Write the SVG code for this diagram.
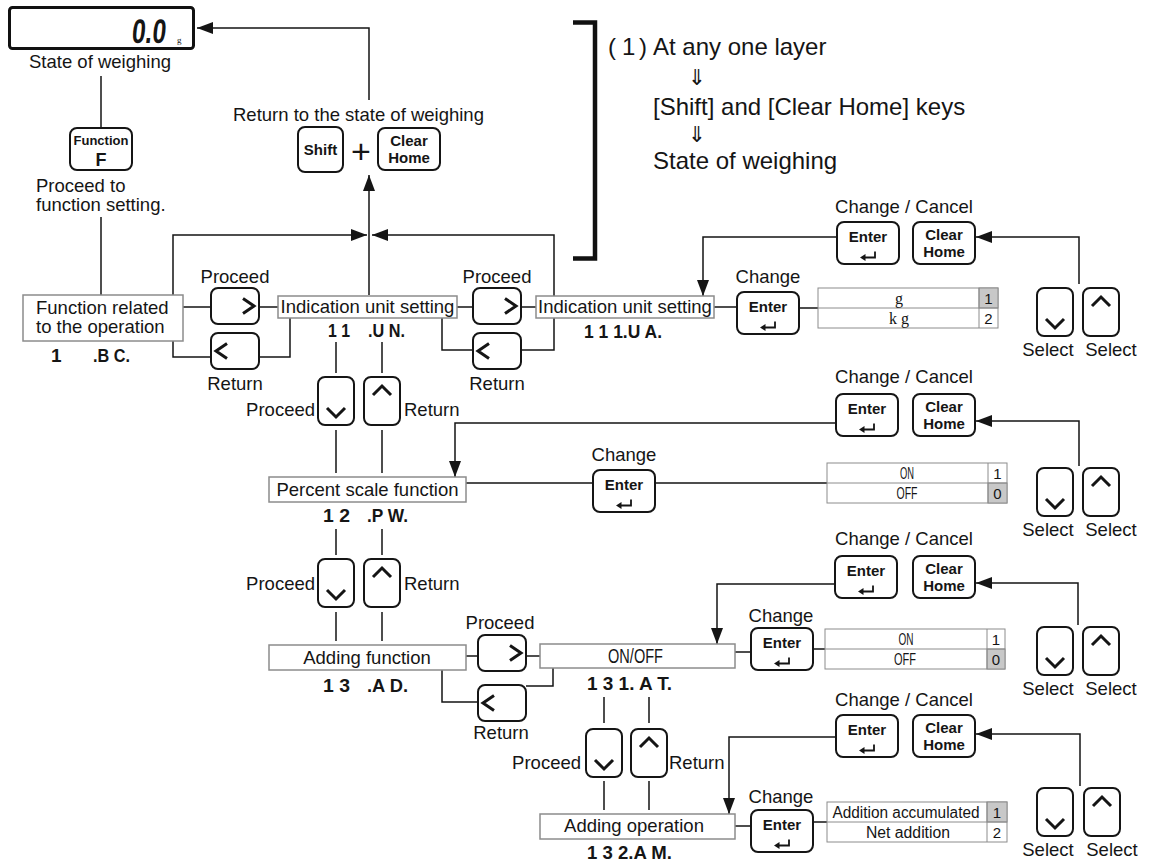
<svg xmlns="http://www.w3.org/2000/svg" width="1151" height="865" viewBox="0 0 1151 865">
<style>
.ln{fill:none;stroke:#151515;stroke-width:1.5}
.key{fill:#fff;stroke:#151515;stroke-width:2}
.chev{fill:none;stroke:#151515;stroke-width:3}
.box{fill:#fff;stroke:#8c8c8c;stroke-width:1.5}
.tb{fill:#fff;stroke:#8c8c8c;stroke-width:1}
.sel{fill:#c8c8c8;stroke:#8c8c8c;stroke-width:1}
text{font-family:"Liberation Sans",Arial,sans-serif;fill:#151515}
.lbl{font-size:18.5px}
.mid{text-anchor:middle}
.end{text-anchor:end}
.note{font-size:24px}
.arr{font-family:"DejaVu Sans",sans-serif;font-size:22px;text-anchor:middle}
.kt{font-size:15px;font-weight:bold;text-anchor:middle}
.code{font-size:19px;font-weight:bold}
.tt{font-size:16px;text-anchor:middle}
.num{font-size:15px;text-anchor:middle}
.ser{font-family:"Liberation Serif",serif}
</style>
<defs>
<marker id="ah" markerUnits="userSpaceOnUse" markerWidth="16" markerHeight="12" refX="16" refY="6" orient="auto"><path d="M0,0 L16,6 L0,12 z" fill="#151515"/></marker>
<g id="kEnter"><rect class="key" x="0" y="0" width="62" height="42" rx="7"/><text class="kt" x="31" y="19.5">Enter</text><path d="M38,29.5 V35.5 H27" fill="none" stroke="#151515" stroke-width="1.8"/><path d="M23,35.5 L28.5,32 L28.5,39 z" fill="#151515"/></g>
<g id="kClear"><rect class="key" x="0" y="0" width="62" height="42" rx="7"/><text class="kt" x="31" y="17.5">Clear</text><text class="kt" x="31" y="34.5">Home</text></g>
<g id="kDown"><rect class="key" x="0" y="0" width="36" height="48" rx="7"/><polyline class="chev" points="9,31 18,40 27,31"/></g>
<g id="kUp"><rect class="key" x="0" y="0" width="36" height="48" rx="7"/><polyline class="chev" points="9,18 18,9 27,18"/></g>
<g id="kRight"><rect class="key" x="0" y="0" width="48" height="36" rx="7"/><polyline class="chev" points="32,10.5 43,18 32,25.5"/></g>
<g id="kLeft"><rect class="key" x="0" y="0" width="48" height="36" rx="7"/><polyline class="chev" points="16,10.5 5,18 16,25.5"/></g>
</defs>
<rect width="1151" height="865" fill="#fff"/>

<g id="connectors">
<path class="ln" d="M101,76 V128"/>
<path class="ln" d="M101,217 V295"/>
<path class="ln" d="M369,100 V28 H197" marker-end="url(#ah)"/>
<path class="ln" d="M369,295 V175" marker-end="url(#ah)"/>
<path class="ln" d="M173,295 V235 H367" marker-end="url(#ah)"/>
<path class="ln" d="M522,350 H554 V235 H372" marker-end="url(#ah)"/>
<path class="ln" d="M183,307 H211 M259,307 H278"/>
<path class="ln" d="M173,341 V357 H211 M259,357 H290 V318"/>
<path class="ln" d="M457,307 H473 M521,307 H536"/>
<path class="ln" d="M473,350 H442 V318"/>
<path class="ln" d="M714,307 H737 M799,308 H818"/>
<path class="ln" d="M837,237 H703 V296" marker-end="url(#ah)"/>
<path class="ln" d="M1079,284 V237 H976" marker-end="url(#ah)"/>
<path class="ln" d="M336,342 V373 M382,342 V373"/>
<path class="ln" d="M336,430 V473 M382,430 V473"/>
<path class="ln" d="M336,529 V555 M382,529 V555"/>
<path class="ln" d="M836,423 H455 V477" marker-end="url(#ah)"/>
<path class="ln" d="M466,483 H593 M655,483 H827"/>
<path class="ln" d="M1079,466 V421 H976" marker-end="url(#ah)"/>
<path class="ln" d="M336,612 V641 M382,612 V641"/>
<path class="ln" d="M466,656 H478 M526,656 H540"/>
<path class="ln" d="M442,670 V702 H478 M526,686 H553 V668"/>
<path class="ln" d="M604,697 V723 M649,697 V723"/>
<path class="ln" d="M836,584 H717 V644" marker-end="url(#ah)"/>
<path class="ln" d="M735,652 H750 M813,649 H825"/>
<path class="ln" d="M1078,625 V583 H976" marker-end="url(#ah)"/>
<path class="ln" d="M604,781 V810 M649,781 V810"/>
<path class="ln" d="M836,737 H729 V814" marker-end="url(#ah)"/>
<path class="ln" d="M735,826 H750 M813,822 H827"/>
<path class="ln" d="M1080,786 V734 H976" marker-end="url(#ah)"/>
</g>

<g id="bracket"><path d="M573,22.5 H595 V258.5 H573" fill="none" stroke="#111" stroke-width="4.5"/></g>

<g id="display">
<rect x="9.5" y="7.5" width="184" height="41" rx="3" fill="#fff" stroke="#111" stroke-width="3"/>
<text x="0" y="0" transform="translate(131,43) skewX(-6) scale(0.72,1)" font-size="34" font-weight="bold">0.0</text>
<text class="ser" x="177" y="43" font-size="9">g</text>
<text class="lbl mid" x="100" y="68">State of weighing</text>
</g>

<g id="function-key">
<rect class="key" x="70" y="128" width="62" height="42" rx="7"/>
<text class="kt" x="101" y="145" style="font-size:13px">Function</text>
<text class="kt" x="101" y="166" style="font-size:18px">F</text>
<text class="lbl" x="36" y="192">Proceed to</text>
<text class="lbl" x="36" y="211">function setting.</text>
</g>

<g id="return-home">
<text class="lbl" x="233" y="121">Return to the state of weighing</text>
<rect class="key" x="298" y="127" width="45" height="45" rx="7"/>
<text class="kt" x="320.5" y="155">Shift</text>
<text x="361" y="163" font-size="34" text-anchor="middle">+</text>
<use href="#kClear" x="378" y="128"/>
</g>

<g id="note">
<text class="note" x="608 622 639" y="55">(1)</text>
<text class="note" x="653" y="55">At any one layer</text>
<text class="arr" x="697" y="85">⇓</text>
<text class="note" x="653" y="115">[Shift] and [Clear Home] keys</text>
<text class="arr" x="697" y="142">⇓</text>
<text class="note" x="653" y="169">State of weighing</text>
</g>

<g id="n-1-bc">
<rect class="box" x="23" y="295" width="160" height="46"/>
<text class="lbl" x="36" y="314">Function related</text>
<text class="lbl" x="36" y="333">to the operation</text>
<text class="code" x="51" y="362">1</text>
<text class="code" x="93" y="362" textLength="37" lengthAdjust="spacingAndGlyphs">.B C.</text>
</g>

<g id="k-row1-proceed"><text class="lbl mid" x="235" y="283">Proceed</text><use href="#kRight" x="211" y="288"/></g>
<g id="k-row1-return"><use href="#kLeft" x="211" y="333"/><text class="lbl mid" x="235" y="390">Return</text></g>

<g id="n-11-un">
<rect class="box" x="278" y="296" width="179" height="22"/>
<text class="lbl mid" x="367.5" y="313">Indication unit setting</text>
<text class="code" x="328" y="337" textLength="22" lengthAdjust="spacingAndGlyphs">1 1</text>
<text class="code" x="368" y="337" textLength="37" lengthAdjust="spacingAndGlyphs">.U N.</text>
</g>

<g id="k-row1b-proceed"><text class="lbl mid" x="497" y="283">Proceed</text><use href="#kRight" x="473" y="288"/></g>
<g id="k-row1b-return"><use href="#kLeft" x="473" y="333"/><text class="lbl mid" x="497" y="390">Return</text></g>

<g id="n-111-ua">
<rect class="box" x="536" y="296" width="178" height="22"/>
<text class="lbl mid" x="625" y="313">Indication unit setting</text>
<text class="code" x="584" y="338" textLength="78" lengthAdjust="spacingAndGlyphs">1 1 1.U A.</text>
</g>

<g id="k-row1-change"><text class="lbl mid" x="768" y="283">Change</text><use href="#kEnter" x="737" y="292"/></g>
<g id="t-unit">
<rect class="tb" x="818" y="288" width="180" height="40"/>
<rect class="sel" x="979" y="288" width="19" height="20"/>
<path d="M818,308 H998 M979,288 V328" stroke="#8c8c8c" stroke-width="1"/>
<text class="tt ser" x="899" y="304">g</text>
<text class="tt ser" x="899" y="324">k g</text>
<text class="num" x="988.5" y="304">1</text>
<text class="num" x="988.5" y="324">2</text>
</g>
<g id="k-row1-cancel">
<text class="lbl mid" x="904" y="213">Change / Cancel</text>
<use href="#kEnter" x="837" y="222"/>
<use href="#kClear" x="913" y="222"/>
</g>
<g id="k-row1-select">
<use href="#kDown" x="1037" y="288"/><use href="#kUp" x="1083" y="288"/>
<text class="lbl mid" x="1048" y="356">Select</text><text class="lbl mid" x="1111" y="356">Select</text>
</g>

<g id="k-row2-updown">
<text class="lbl end" x="315" y="416">Proceed</text>
<use href="#kDown" x="318" y="377"/><use href="#kUp" x="364" y="377"/>
<text class="lbl" x="404" y="416">Return</text>
</g>

<g id="n-12-pw">
<rect class="box" x="269" y="477" width="197" height="25"/>
<text class="lbl mid" x="367.5" y="496">Percent scale function</text>
<text class="code" x="323" y="522" textLength="27" lengthAdjust="spacingAndGlyphs">1 2</text>
<text class="code" x="367" y="522" textLength="41" lengthAdjust="spacingAndGlyphs">.P W.</text>
</g>
<g id="k-row2-change"><text class="lbl mid" x="624" y="461">Change</text><use href="#kEnter" x="593" y="470"/></g>
<g id="t-percent">
<rect class="tb" x="827" y="463" width="180" height="40"/>
<rect class="sel" x="988" y="483" width="19" height="20"/>
<path d="M827,483 H1007 M988,463 V503" stroke="#8c8c8c" stroke-width="1"/>
<text class="tt" x="907" y="479" textLength="14" lengthAdjust="spacingAndGlyphs">ON</text>
<text class="tt" x="907" y="499" textLength="21" lengthAdjust="spacingAndGlyphs">OFF</text>
<text class="num" x="997.5" y="479">1</text>
<text class="num" x="997.5" y="499">0</text>
</g>
<g id="k-row2-cancel">
<text class="lbl mid" x="904" y="383">Change / Cancel</text>
<use href="#kEnter" x="836" y="394"/>
<use href="#kClear" x="913" y="394"/>
</g>
<g id="k-row2-select">
<use href="#kDown" x="1037" y="468"/><use href="#kUp" x="1083" y="468"/>
<text class="lbl mid" x="1048" y="536">Select</text><text class="lbl mid" x="1111" y="536">Select</text>
</g>

<g id="k-row3-updown">
<text class="lbl end" x="315" y="590">Proceed</text>
<use href="#kDown" x="318" y="559"/><use href="#kUp" x="364" y="559"/>
<text class="lbl" x="404" y="590">Return</text>
</g>

<g id="n-13-ad">
<rect class="box" x="269" y="645" width="197" height="25"/>
<text class="lbl mid" x="367" y="664">Adding function</text>
<text class="code" x="323" y="692" textLength="27" lengthAdjust="spacingAndGlyphs">1 3</text>
<text class="code" x="367" y="692" textLength="41" lengthAdjust="spacingAndGlyphs">.A D.</text>
</g>
<g id="k-row3-proceed"><text class="lbl mid" x="500" y="629">Proceed</text><use href="#kRight" x="478" y="635"/></g>
<g id="k-row3-return"><use href="#kLeft" x="478" y="685"/><text class="lbl mid" x="501" y="739">Return</text></g>

<g id="n-131-at">
<rect class="box" x="540" y="644" width="195" height="24"/>
<text x="608" y="663" font-size="20" textLength="55" lengthAdjust="spacingAndGlyphs">ON/OFF</text>
<text class="code" x="587" y="690" textLength="85" lengthAdjust="spacingAndGlyphs">1 3 1. A T.</text>
</g>
<g id="k-row3-change"><text class="lbl mid" x="781" y="622">Change</text><use href="#kEnter" x="751" y="628"/></g>
<g id="t-adding">
<rect class="tb" x="825" y="629" width="180" height="40"/>
<rect class="sel" x="987" y="649" width="18" height="20"/>
<path d="M825,649 H1005 M987,629 V669" stroke="#8c8c8c" stroke-width="1"/>
<text class="tt" x="906" y="645" textLength="15" lengthAdjust="spacingAndGlyphs">ON</text>
<text class="tt" x="905" y="665" textLength="22" lengthAdjust="spacingAndGlyphs">OFF</text>
<text class="num" x="996" y="645">1</text>
<text class="num" x="996" y="665">0</text>
</g>
<g id="k-row3-cancel">
<text class="lbl mid" x="904" y="545">Change / Cancel</text>
<use href="#kEnter" x="835" y="556"/>
<use href="#kClear" x="913" y="556"/>
</g>
<g id="k-row3-select">
<use href="#kDown" x="1037" y="627"/><use href="#kUp" x="1083" y="627"/>
<text class="lbl mid" x="1048" y="695">Select</text><text class="lbl mid" x="1111" y="695">Select</text>
</g>

<g id="k-row4-updown">
<text class="lbl end" x="581" y="769">Proceed</text>
<use href="#kDown" x="586" y="729"/><use href="#kUp" x="631" y="729"/>
<text class="lbl" x="669" y="769">Return</text>
</g>

<g id="n-132-am">
<rect class="box" x="540" y="814" width="195" height="25"/>
<text class="lbl mid" x="634" y="832">Adding operation</text>
<text class="code" x="587" y="859" textLength="85" lengthAdjust="spacingAndGlyphs">1 3 2.A M.</text>
</g>
<g id="k-row4-change"><text class="lbl mid" x="781" y="803">Change</text><use href="#kEnter" x="751" y="810"/></g>
<g id="t-operation">
<rect class="tb" x="827" y="802" width="180" height="40"/>
<rect class="sel" x="987" y="802" width="20" height="20"/>
<path d="M827,822 H1007 M987,802 V842" stroke="#8c8c8c" stroke-width="1"/>
<text class="tt" x="906" y="818" font-size="16" textLength="147" lengthAdjust="spacingAndGlyphs">Addition accumulated</text>
<text class="tt" x="908" y="838" textLength="84" lengthAdjust="spacingAndGlyphs">Net addition</text>
<text class="num" x="997" y="818">1</text>
<text class="num" x="997" y="838">2</text>
</g>
<g id="k-row4-cancel">
<text class="lbl mid" x="904" y="706">Change / Cancel</text>
<use href="#kEnter" x="836" y="715"/>
<use href="#kClear" x="913" y="715"/>
</g>
<g id="k-row4-select">
<use href="#kDown" x="1037" y="788"/><use href="#kUp" x="1084" y="788"/>
<text class="lbl mid" x="1048" y="856">Select</text><text class="lbl mid" x="1112" y="856">Select</text>
</g>
</svg>
